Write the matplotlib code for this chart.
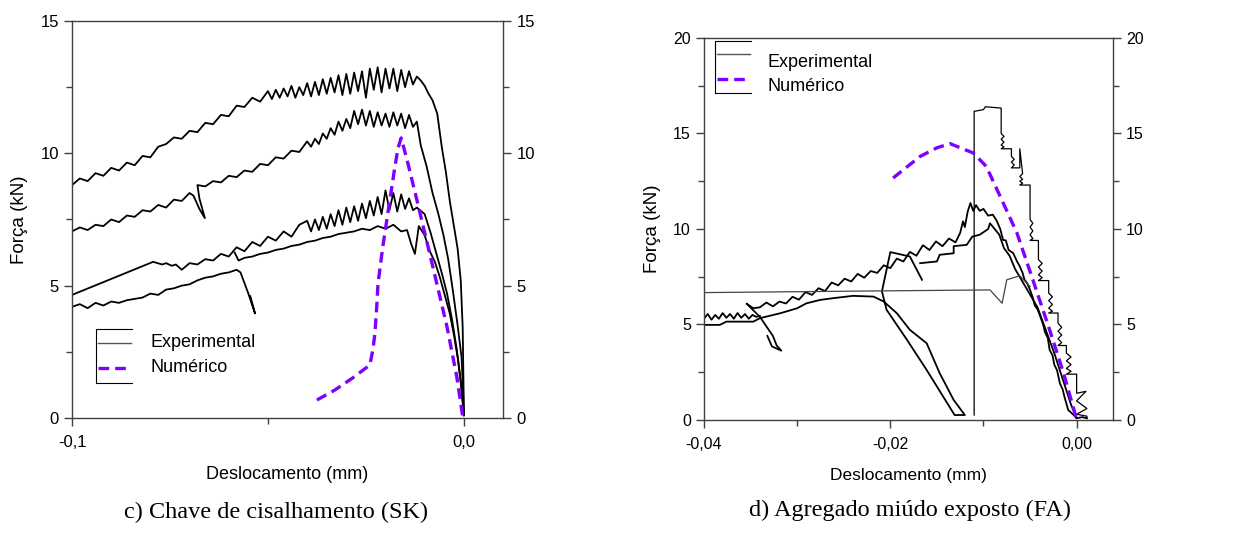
import numpy as np
import matplotlib.pyplot as plt

plt.rcParams['font.family'] = ['Liberation Sans', 'DejaVu Sans']

# ---------------- painel c) Chave de cisalhamento (SK) ----------------
# curva superior
xa = [-0.1000, -0.0980, -0.0960, -0.0940, -0.0920, -0.0900, -0.0880, -0.0860, -0.0840, -0.0820,
      -0.0800, -0.0780, -0.0760, -0.0740, -0.0720, -0.0700, -0.0680, -0.0660, -0.0640, -0.0620,
      -0.0600, -0.0580, -0.0560, -0.0540, -0.0520,
      -0.050, -0.049, -0.048, -0.047, -0.046, -0.045, -0.044, -0.043, -0.042, -0.041,
      -0.040, -0.039, -0.038, -0.037, -0.036, -0.035, -0.034, -0.033, -0.032, -0.031,
      -0.030, -0.029, -0.028, -0.027, -0.026, -0.025, -0.024, -0.023, -0.022, -0.021,
      -0.020, -0.019, -0.018, -0.017, -0.016, -0.015, -0.014, -0.013, -0.012, -0.011,
      -0.0100, -0.0092, -0.0080, -0.0068, -0.0056, -0.0046, -0.0036, -0.0026, -0.0016, -0.0008,
      -0.0003, 0.0000]
ya = [8.80, 9.05, 8.95, 9.25, 9.15, 9.45, 9.35, 9.65, 9.55, 9.90,
      9.85, 10.25, 10.35, 10.60, 10.55, 10.85, 10.80, 11.15, 11.10, 11.45,
      11.40, 11.80, 11.75, 12.10, 11.95,
      12.35, 12.05, 12.40, 12.10, 12.45, 12.15, 12.55, 12.10, 12.50, 12.20,
      12.65, 12.15, 12.70, 12.20, 12.80, 12.25, 12.85, 12.30, 12.95, 12.20,
      13.00, 12.25, 13.05, 12.35, 13.10, 12.10, 13.20, 12.40, 13.25, 12.30,
      13.20, 12.45, 13.20, 12.35, 13.15, 12.50, 13.10, 12.60, 12.90, 12.75,
      12.55, 12.30, 12.00, 11.50, 10.20, 9.30, 8.20, 7.30, 6.40, 5.20,
      3.40, 0.20]

# segunda curva
xb = [-0.1000, -0.0980, -0.0960, -0.0940, -0.0920, -0.0900, -0.0880, -0.0860, -0.0840, -0.0820,
      -0.0800, -0.0780, -0.0760, -0.0740, -0.0720, -0.0700, -0.0690, -0.0675, -0.0661, -0.0675,
      -0.0680, -0.0660, -0.0640, -0.0620, -0.0600, -0.0580, -0.0560, -0.0540, -0.0520, -0.0500,
      -0.0480, -0.0460, -0.0440, -0.0420,
      -0.040, -0.039, -0.038, -0.037, -0.036, -0.035, -0.034, -0.033, -0.032, -0.031,
      -0.030, -0.029, -0.028, -0.027, -0.026, -0.025, -0.024, -0.023, -0.022, -0.021,
      -0.020, -0.019, -0.018, -0.017, -0.016, -0.015, -0.014, -0.013, -0.012,
      -0.0110, -0.0095, -0.0080, -0.0065, -0.0052, -0.0040, -0.0028, -0.0016, -0.0006, -0.0002,
      0.0000]
yb = [7.05, 7.20, 7.10, 7.30, 7.25, 7.50, 7.40, 7.65, 7.60, 7.85,
      7.80, 8.05, 7.95, 8.25, 8.20, 8.50, 8.40, 7.90, 7.55, 8.30,
      8.80, 8.75, 8.95, 8.90, 9.15, 9.10, 9.35, 9.30, 9.60, 9.55,
      9.85, 9.80, 10.10, 10.05,
      10.45, 10.25, 10.55, 10.35, 10.75, 10.55, 10.95, 10.70, 11.20, 10.85,
      11.30, 10.95, 11.60, 11.10, 11.65, 11.05, 11.60, 11.00, 11.55, 11.05,
      11.50, 11.00, 11.55, 11.05, 11.50, 10.95, 11.45, 11.00, 11.20,
      10.30, 9.50, 8.50, 7.70, 6.90, 6.00, 4.80, 3.50, 2.30, 1.00,
      0.10]

# terceira curva (inicio retilineo)
xc = [-0.1000, -0.0793, -0.0770, -0.0760, -0.0745, -0.0735, -0.0720, -0.0700, -0.0680, -0.0660,
      -0.0640, -0.0620, -0.0600, -0.0580, -0.0560, -0.0540, -0.0520, -0.0500, -0.0480, -0.0460,
      -0.0440, -0.0420,
      -0.040, -0.039, -0.038, -0.037, -0.036, -0.035, -0.034, -0.033, -0.032, -0.031,
      -0.030, -0.029, -0.028, -0.027, -0.026, -0.025, -0.024, -0.023, -0.022, -0.021,
      -0.020, -0.019, -0.018, -0.017, -0.016, -0.015, -0.014, -0.013, -0.012,
      -0.0100, -0.0085, -0.0070, -0.0055, -0.0043, -0.0030, -0.0018, -0.0008, 0.0000]
yc = [4.65, 5.90, 5.80, 5.85, 5.75, 5.80, 5.60, 5.85, 5.80, 6.00,
      5.95, 6.20, 6.10, 6.45, 6.30, 6.65, 6.50, 6.85, 6.70, 7.05,
      6.85, 7.30,
      7.45, 7.05, 7.50, 7.10, 7.60, 7.15, 7.70, 7.25, 7.85, 7.30,
      7.95, 7.40, 8.00, 7.45, 8.10, 7.55, 8.20, 7.65, 8.35, 7.70,
      8.60, 7.85, 8.50, 7.80, 8.45, 7.90, 8.30, 7.85, 7.95,
      7.70, 7.00, 6.20, 5.40, 4.70, 3.70, 2.57, 1.40, 0.20]

# curva inferior (primeiro trecho)
xd1 = [-0.1000, -0.0980, -0.0960, -0.0940, -0.0920, -0.0900, -0.0880, -0.0860, -0.0840, -0.0820,
       -0.0800, -0.0780, -0.0760, -0.0740, -0.0720, -0.0700, -0.0680, -0.0660, -0.0640, -0.0620,
       -0.0600, -0.0580, -0.0570, -0.0550, -0.0533, -0.0545]
yd1 = [4.20, 4.30, 4.15, 4.35, 4.25, 4.40, 4.35, 4.45, 4.50, 4.55,
       4.70, 4.65, 4.85, 4.90, 5.00, 5.05, 5.20, 5.30, 5.35, 5.45,
       5.50, 5.60, 5.50, 4.70, 3.95, 4.60]

# curva inferior (segundo trecho)
xd2 = [-0.0585, -0.0575, -0.0560, -0.0540, -0.0520, -0.0500, -0.0480, -0.0460, -0.0440, -0.0420,
       -0.0400, -0.0380, -0.0360, -0.0340, -0.0320, -0.0300, -0.0280, -0.0260, -0.0240, -0.0220,
       -0.0200, -0.0180, -0.0160, -0.0145, -0.0135, -0.0125, -0.0115, -0.0100, -0.0087, -0.0074,
       -0.0061, -0.0048, -0.0036, -0.0025, -0.0015, -0.0007, 0.0000]
yd2 = [6.25, 5.95, 6.05, 6.10, 6.20, 6.25, 6.35, 6.40, 6.50, 6.55,
       6.65, 6.70, 6.80, 6.85, 6.95, 7.00, 7.05, 7.15, 7.10, 7.25,
       7.15, 7.30, 7.05, 7.10, 6.60, 6.20, 7.25, 6.90, 6.30, 5.90,
       5.30, 4.60, 3.95, 3.10, 2.20, 1.20, 0.10]

# numerico SK
xn1 = [-0.0375, -0.0330, -0.0285, -0.0240, -0.0232, -0.0227, -0.0222, -0.0219, -0.0207, -0.0194,
       -0.0176, -0.0168, -0.0160, -0.0145, -0.0120, -0.0079, -0.0043, -0.0018, -0.0003]
yn1 = [0.68, 1.05, 1.50, 2.00, 2.60, 3.20, 4.30, 5.10, 6.46, 7.74,
       9.50, 10.20, 10.58, 9.75, 8.24, 5.70, 3.44, 1.55, 0.05]

# ---------------- painel d) Agregado miudo exposto (FA) ----------------
xe0 = [-0.0400, -0.0396, -0.0392, -0.0388, -0.0384, -0.0380, -0.0376, -0.0372, -0.0368, -0.0364,
       -0.0360, -0.0356, -0.0352, -0.0348, -0.0344, -0.0340]
ye0 = [5.30, 5.55, 5.25, 5.50, 5.30, 5.60, 5.35, 5.55, 5.30, 5.60,
       5.35, 5.55, 5.30, 5.50, 5.40, 5.45]

xe1 = [-0.0354, -0.0340, -0.0326, -0.0322, -0.0317, -0.0327, -0.0332]
ye1 = [6.08, 5.40, 4.40, 3.90, 3.63, 3.85, 4.40]

xe2 = [-0.0354, -0.0347, -0.0340, -0.0333, -0.0326, -0.0319, -0.0312, -0.0305, -0.0298, -0.0291,
       -0.0284, -0.0277, -0.0270, -0.0263, -0.0256, -0.0249, -0.0242, -0.0235, -0.0228, -0.0221,
       -0.0214, -0.0207, -0.0200, -0.0193, -0.0186, -0.0179, -0.0172, -0.0165, -0.0158, -0.0151,
       -0.0144, -0.0137, -0.0130, -0.0125, -0.0122, -0.0120, -0.0117, -0.0114, -0.0111, -0.0108,
       -0.0104, -0.0100, -0.0095, -0.0090, -0.0086, -0.0082, -0.0079, -0.0076, -0.0073, -0.0070,
       -0.0068, -0.0064, -0.0061, -0.0058, -0.0056, -0.0053, -0.0050, -0.0047, -0.0045, -0.0042,
       -0.0039, -0.0036, -0.0034, -0.0031, -0.0029, -0.0026, -0.0024, -0.0021, -0.0018, -0.0015,
       -0.0013, -0.0009, -0.0004, 0.0000, 0.0006, 0.0011]
ye2 = [6.08, 5.85, 5.90, 6.15, 5.95, 6.20, 6.10, 6.45, 6.30, 6.70,
       6.55, 6.90, 6.75, 7.20, 7.05, 7.40, 7.25, 7.65, 7.45, 7.80,
       7.70, 8.10, 7.95, 8.45, 8.30, 8.80, 8.60, 9.15, 8.90, 9.35,
       9.10, 9.50, 9.30, 9.80, 10.40, 10.10, 10.90, 11.36, 10.95, 11.25,
       10.95, 11.05, 10.70, 10.75, 10.45, 10.00, 9.43, 9.40, 8.90, 8.80,
       8.73, 8.30, 8.04, 7.70, 7.35, 7.15, 6.81, 6.40, 6.00, 5.80,
       5.42, 5.00, 4.60, 4.30, 3.67, 3.40, 2.90, 2.60, 1.92, 1.60,
       1.20, 0.52, 0.30, 0.09, 0.15, 0.09]

xf = [-0.0400, -0.0383, -0.0376, -0.0347, -0.0340, -0.0318, -0.0300, -0.0290, -0.0275, -0.0261,
      -0.0240, -0.0218, -0.0207, -0.0193, -0.0179, -0.0161, -0.0147, -0.0132, -0.0120, -0.0131,
      -0.0161, -0.0182, -0.0204, -0.0209, -0.0200, -0.0179, -0.0166]
yf = [4.98, 4.98, 5.15, 5.15, 5.33, 5.59, 5.85, 6.11, 6.29, 6.38,
      6.50, 6.46, 6.20, 5.59, 4.72, 4.02, 2.45, 1.05, 0.26, 0.26,
      2.62, 4.19, 5.77, 6.73, 8.79, 8.56, 7.34]

xh = [-0.0400, -0.0209, -0.0093, -0.0080, -0.0075, -0.0061, -0.0050]
yh = [6.67, 6.76, 6.81, 6.11, 7.34, 7.55, 6.99]

xg1 = [-0.0168, -0.0150, -0.0147, -0.0132, -0.0132, -0.0118, -0.0112, -0.0104, -0.0095, -0.0093,
       -0.0088, -0.0083, -0.0078, -0.0072, -0.0066, -0.0060, -0.0054, -0.0048, -0.0042, -0.0036,
       -0.0030, -0.0024, -0.0018, -0.0012, -0.0006, 0.0000]
yg1 = [8.21, 8.30, 8.65, 8.73, 9.10, 9.17, 9.60, 9.70, 10.00, 10.30,
       10.00, 9.70, 9.00, 8.60, 7.90, 7.40, 6.90, 6.40, 5.90, 5.10,
       4.30, 3.50, 2.60, 1.70, 0.80, 0.10]

xg2 = [-0.0110, -0.0110, -0.0100, -0.0098, -0.0081, -0.0081, -0.0078, -0.0081, -0.0078, -0.0081,
       -0.0078, -0.0081, -0.0070, -0.0070, -0.0067, -0.0070, -0.0067, -0.0070, -0.0061, -0.0061,
       -0.0058, -0.0061, -0.0058, -0.0061, -0.0058, -0.0061, -0.0050, -0.0050, -0.0047, -0.0050,
       -0.0047, -0.0050, -0.0047, -0.0050, -0.0041, -0.0041, -0.0037, -0.0041, -0.0037, -0.0041,
       -0.0037, -0.0041, -0.0030, -0.0030, -0.0026, -0.0030, -0.0026, -0.0030, -0.0026, -0.0030,
       -0.0020, -0.0020, -0.0016, -0.0020, -0.0016, -0.0020, -0.0016, -0.0020, -0.0011, -0.0011,
       -0.0006, -0.0011, -0.0006, -0.0011, -0.0006, -0.0011, 0.0000, 0.0000, 0.0010, 0.0000,
       0.0011, 0.0000, 0.0011, 0.0011]
yg2 = [0.26, 16.16, 16.25, 16.40, 16.33, 15.00, 14.85, 14.70, 14.55, 14.40,
       14.30, 14.20, 14.20, 13.80, 13.65, 13.50, 13.35, 13.20, 13.20, 14.20,
       12.90, 12.75, 12.60, 12.50, 12.40, 12.30, 12.30, 10.50, 10.30, 10.10,
       9.90, 9.70, 9.50, 9.40, 9.40, 8.40, 8.20, 8.00, 7.80, 7.60,
       7.45, 7.30, 7.30, 6.64, 6.45, 6.25, 6.05, 5.85, 5.70, 5.60,
       5.60, 5.07, 4.85, 4.65, 4.45, 4.25, 4.05, 3.90, 3.90, 3.50,
       3.30, 3.10, 2.90, 2.70, 2.55, 2.40, 2.40, 1.40, 1.50, 1.00,
       0.60, 0.30, 0.20, 0.10]

xn2 = [-0.0197, -0.0168, -0.0150, -0.0136, -0.0111, -0.0097, -0.0082, -0.0064, -0.0047, -0.0029,
       -0.0014, 0.0000]
yn2 = [12.67, 13.80, 14.25, 14.47, 13.98, 13.28, 11.70, 9.78, 7.34, 4.72,
       2.45, 0.03]

roxo = '#7f00ff'
cinza = '#404040'
tr = (0, (3.2, 1.8))


def estilo(ax, ymax, xticks, xlabels, xminor, fs_tick, fs_lab):
    ax.set_ylim(0, ymax)
    ax.set_xticks(xticks)
    ax.set_xticklabels(xlabels)
    ax.set_xticks(xminor, minor=True)
    ax.set_yticks(np.arange(0, ymax + 1, 5))
    ax.set_yticks(np.arange(2.5, ymax, 5), minor=True)
    ax.tick_params(which='both', direction='out', color=cinza, labelsize=fs_tick,
                   left=True, right=True, labelright=True, top=False)
    ax.tick_params(axis='x', pad=6)
    ax.tick_params(which='major', length=6, width=1)
    ax.tick_params(which='minor', length=4, width=1)
    for s in ax.spines.values():
        s.set_color(cinza)
        s.set_linewidth(1.0)
    ax.set_xlabel('Deslocamento (mm)', fontsize=fs_lab, labelpad=12)
    ax.set_ylabel('Força (kN)', fontsize=13.5, labelpad=9)


def legenda(ax, x0, x1, ytop, ybot, y_exp, y_num, xt, yt_exp, yt_num):
    kw = dict(transform=ax.transAxes, clip_on=False)
    ax.plot([x1, x0, x0, x1], [ytop, ytop, ybot, ybot], color='k', lw=0.8, **kw)
    ax.plot([x0 + 0.005, x1 - 0.003], [y_exp, y_exp], color='#555555', lw=1.0, **kw)
    ax.plot([x0 + 0.005, x1 - 0.003], [y_num, y_num], color=roxo, lw=2.4, ls=tr, **kw)
    ax.text(xt, yt_exp, 'Experimental', transform=ax.transAxes, fontsize=13, va='center')
    ax.text(xt, yt_num, 'Numérico', transform=ax.transAxes, fontsize=13, va='center')


fig = plt.figure(figsize=(12.48, 5.42), dpi=100)

# painel esquerdo
ax1 = fig.add_axes([0.0577, 0.2288, 0.3454, 0.7325])
for xs, ys in [(xa, ya), (xb, yb), (xc, yc), (xd1, yd1), (xd2, yd2)]:
    ax1.plot(xs, ys, color='k', lw=1.3)
ax1.plot(xn1, yn1, color=roxo, lw=2.4, ls=tr)
ax1.set_xlim(-0.1, 0.01)
estilo(ax1, 15, [-0.1, 0.0], ['-0,1', '0,0'], [-0.05], 12, 13)
legenda(ax1, 0.0557, 0.139, 0.224, 0.088, 0.189, 0.126, 0.181, 0.189, 0.128)

# painel direito
ax2 = fig.add_axes([0.5641, 0.2251, 0.3277, 0.7048])
for xs, ys in [(xe0, ye0), (xe1, ye1), (xe2, ye2), (xf, yf), (xg1, yg1)]:
    ax2.plot(xs, ys, color='k', lw=1.3)
ax2.plot(xg2, yg2, color='k', lw=0.9)
ax2.plot(xh, yh, color='#444444', lw=0.9)
ax2.plot(xn2, yn2, color=roxo, lw=2.4, ls=tr)
ax2.set_xlim(-0.04, 0.0039)
estilo(ax2, 20, [-0.04, -0.02, 0.0], ['-0,04', '-0,02', '0,00'], [-0.03, -0.01], 11.5, 12.5)
legenda(ax2, 0.0269, 0.115, 0.992, 0.856, 0.958, 0.893, 0.156, 0.935, 0.872)

# legendas das figuras
fig.text(0.221, 0.055, 'c) Chave de cisalhamento (SK)', ha='center', va='center',
         fontsize=17.5, family=['Liberation Serif', 'DejaVu Serif'])
fig.text(0.729, 0.058, 'd) Agregado miúdo exposto (FA)', ha='center', va='center',
         fontsize=17.5, family=['Liberation Serif', 'DejaVu Serif'])

fig.savefig('out.png', dpi=100)
